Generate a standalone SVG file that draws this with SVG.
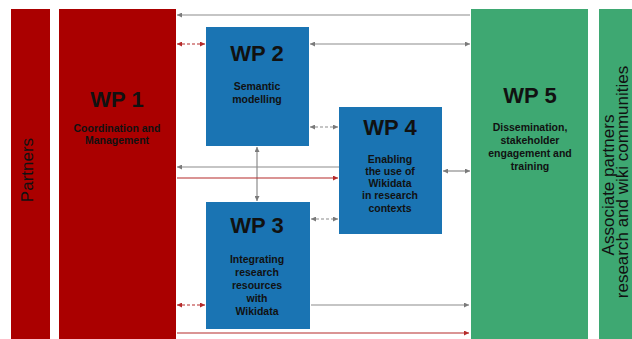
<svg xmlns="http://www.w3.org/2000/svg" width="632" height="339" viewBox="0 0 632 339">
<style>
.red{fill:#aa0000}
.blue{fill:#1a74b3}
.green{fill:#3ea872}
.t{font-family:"Liberation Sans",Arial,sans-serif;font-weight:bold;fill:#111;text-anchor:middle}
.h{font-size:22px}
.s{font-size:10.5px}
.side{font-family:"Liberation Sans",Arial,sans-serif;fill:#111;text-anchor:middle;font-size:17px}
.g{stroke:#8c8c8c;stroke-width:1.2;fill:none}
.r{stroke:#b52a2a;stroke-width:1.2;fill:none}
.d{stroke-dasharray:3 2}
</style>
<defs>
<marker id="ag" viewBox="0 0 6 6" refX="6" refY="3" markerWidth="5" markerHeight="5" markerUnits="userSpaceOnUse" orient="auto-start-reverse"><path d="M0,0 L6,3 L0,6 z" fill="#7a7a7a"/></marker>
<marker id="ar" viewBox="0 0 6 6" refX="6" refY="3" markerWidth="5" markerHeight="5" markerUnits="userSpaceOnUse" orient="auto-start-reverse"><path d="M0,0 L6,3 L0,6 z" fill="#b52a2a"/></marker>
</defs>
<rect width="632" height="339" fill="#ffffff"/>
<g id="partners">
<rect class="red" x="11" y="9" width="39" height="330"/>
<text class="side" transform="translate(33,170) rotate(-90)">Partners</text>
</g>
<g id="wp1">
<rect class="red" x="59" y="9" width="117" height="330"/>
<text class="t h" x="117" y="107">WP 1</text>
<text class="t s" x="117" y="132">Coordination and</text>
<text class="t s" x="117" y="144">Management</text>
</g>
<g id="wp2">
<rect class="blue" x="206" y="27" width="103" height="119"/>
<text class="t h" x="257" y="61">WP 2</text>
<text class="t s" x="257" y="90">Semantic</text>
<text class="t s" x="257" y="103">modelling</text>
</g>
<g id="wp3">
<rect class="blue" x="206" y="202" width="104" height="127"/>
<text class="t h" x="257" y="233">WP 3</text>
<text class="t s" x="257" y="263">Integrating</text>
<text class="t s" x="257" y="276">research</text>
<text class="t s" x="257" y="289">resources</text>
<text class="t s" x="257" y="302">with</text>
<text class="t s" x="257" y="315">Wikidata</text>
</g>
<g id="wp4">
<rect class="blue" x="339" y="107" width="103" height="127"/>
<text class="t h" x="390" y="135">WP 4</text>
<text class="t s" x="390" y="163">Enabling</text>
<text class="t s" x="390" y="175">the use of</text>
<text class="t s" x="390" y="187">Wikidata</text>
<text class="t s" x="390" y="199">in research</text>
<text class="t s" x="390" y="212">contexts</text>
</g>
<g id="wp5">
<rect class="green" x="471" y="9" width="117" height="330"/>
<text class="t h" x="530" y="103">WP 5</text>
<text class="t s" x="530" y="131">Dissemination,</text>
<text class="t s" x="530" y="144">stakeholder</text>
<text class="t s" x="530" y="157">engagement and</text>
<text class="t s" x="530" y="170">training</text>
</g>
<g id="associate">
<rect class="green" x="599" y="9" width="33" height="330"/>
<text class="side" transform="translate(614,185) rotate(-90)">Associate partners</text>
<text class="side" transform="translate(628,182) rotate(-90)">research and wiki communities</text>
</g>
<g id="connectors">
<line class="g" x1="470" y1="15" x2="177" y2="15" marker-end="url(#ag)"/>
<line class="r d" x1="177" y1="44" x2="205" y2="44" marker-start="url(#ar)" marker-end="url(#ar)"/>
<line class="g" x1="310" y1="44" x2="470" y2="44" marker-start="url(#ag)" marker-end="url(#ag)"/>
<line class="g d" x1="310" y1="127" x2="338" y2="127" marker-start="url(#ag)" marker-end="url(#ag)"/>
<line class="g" x1="257" y1="147" x2="257" y2="201" marker-start="url(#ag)" marker-end="url(#ag)"/>
<line class="g" x1="339" y1="167" x2="177" y2="167" marker-end="url(#ag)"/>
<line class="r" x1="177" y1="178" x2="338" y2="178" marker-end="url(#ar)"/>
<line class="g" x1="443" y1="171" x2="470" y2="171" marker-start="url(#ag)" marker-end="url(#ag)"/>
<line class="g d" x1="311" y1="219" x2="338" y2="219" marker-start="url(#ag)" marker-end="url(#ag)"/>
<line class="r d" x1="177" y1="305" x2="205" y2="305" marker-start="url(#ar)" marker-end="url(#ar)"/>
<line class="g" x1="311" y1="305" x2="469" y2="305" marker-end="url(#ag)"/>
<line class="r" x1="177" y1="333" x2="469" y2="333" marker-end="url(#ar)"/>
</g>
</svg>
